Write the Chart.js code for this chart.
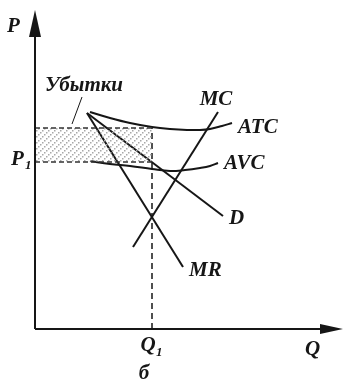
<!DOCTYPE html>
<html lang="ru">
<head>
<meta charset="UTF-8">
<script src="https://cdn.jsdelivr.net/npm/chart.js@4"></script>
<title>Убытки</title>
<style>
  html, body { margin: 0; padding: 0; background: #fff; }
</style>
</head>
<body>
<canvas id="grafico" width="347" height="381"></canvas>
<script>
// values (Q to the right, P upwards)
const qMax = 308, pMax = 317;
const atcQ = [55, 75, 95, 117, 135, 152, 165, 175, 187, 197];
const atcP = [217, 211, 206, 202, 200, 199, 199, 200, 203, 206];
const avcQ = [55, 75, 95, 117, 135, 150, 165, 175, 183];
const avcP = [168, 165, 163, 160, 158, 159, 161, 163, 166];
const dQ = [52, 188];
const dP = [216, 113];
const mrQ = [52, 148];
const mrP = [216, 62];
const mcQ = [98, 183];
const mcP = [82, 217];
const q1 = 117;
const p1 = 167;
const atcAtQ1 = 201;
const leaderQ = [47, 37];
const leaderP = [232, 205];

const pts = (xs, ys) => xs.map((x, i) => ({ x: x, y: ys[i] }));

// light dotted hatching for the loss rectangle
const pc = document.createElement('canvas');
pc.width = 6; pc.height = 6;
const pctx = pc.getContext('2d');
pctx.fillStyle = '#a8a8a8';
pctx.fillRect(4, 0, 1.5, 1.5);
pctx.fillRect(2, 2, 1.5, 1.5);
pctx.fillRect(0, 4, 1.5, 1.5);
const hatch = pctx.createPattern(pc, 'repeat');

const black = '#161616';
const font = "italic bold 21px 'Liberation Serif', 'DejaVu Serif', serif";
const subFont = "italic bold 13px 'Liberation Serif', 'DejaVu Serif', serif";

function line(data, width, dash, extra) {
    return Object.assign({
        data: data,
        showLine: true,
        borderColor: black,
        borderWidth: width,
        borderDash: dash || [],
        pointRadius: 0,
        fill: false,
        tension: 0
    }, extra || {});
}

const datasets = [
    line(pts([0, q1], [atcAtQ1, atcAtQ1]), 1.5, [5, 3], { borderColor: '#333' }),
    line(pts([0, q1], [p1, p1]), 1.5, [5, 3], { borderColor: '#333', fill: '-1', backgroundColor: hatch }),
    line(pts([q1, q1], [0, atcAtQ1]), 1.5, [6, 4]),
    line(pts(atcQ, atcP), 2, null, { tension: 0.4 }),
    line(pts(avcQ, avcP), 2, null, { tension: 0.4 }),
    line(pts(dQ, dP), 2),
    line(pts(mrQ, mrP), 2),
    line(pts(mcQ, mcP), 2),
    line(pts(leaderQ, leaderP), 1)
];

const labels = {
    id: 'labels',
    afterDatasetsDraw(chart) {
        const ctx = chart.ctx;
        const xs = chart.scales.x, ys = chart.scales.y;
        const X = v => xs.getPixelForValue(v);
        const Y = v => ys.getPixelForValue(v);
        const x0 = X(0), y0 = Y(0);
        ctx.save();
        // axes with arrows
        ctx.strokeStyle = black;
        ctx.fillStyle = black;
        ctx.lineWidth = 2;
        ctx.beginPath();
        ctx.moveTo(x0, y0); ctx.lineTo(x0, Y(pMax) + 20);
        ctx.moveTo(x0, y0); ctx.lineTo(X(qMax) - 18, y0);
        ctx.stroke();
        ctx.beginPath();
        ctx.moveTo(x0, Y(pMax) - 2);
        ctx.lineTo(x0 - 6, Y(pMax) + 25);
        ctx.lineTo(x0 + 6, Y(pMax) + 25);
        ctx.closePath(); ctx.fill();
        ctx.beginPath();
        ctx.moveTo(X(qMax), y0);
        ctx.lineTo(X(qMax) - 23, y0 - 5);
        ctx.lineTo(X(qMax) - 23, y0 + 5);
        ctx.closePath(); ctx.fill();

        ctx.font = font;
        ctx.textBaseline = 'middle';
        const last = (q, p) => ({ x: X(q[q.length - 1]), y: Y(p[p.length - 1]) });
        let e = last(mcQ, mcP);
        ctx.textAlign = 'center';
        ctx.fillText('MC', e.x - 2, e.y - 12);
        ctx.textAlign = 'left';
        e = last(atcQ, atcP); ctx.fillText('ATC', e.x + 6, e.y + 5);
        e = last(avcQ, avcP); ctx.fillText('AVC', e.x + 6, e.y + 1);
        e = last(dQ, dP); ctx.fillText('D', e.x + 6, e.y + 3);
        e = last(mrQ, mrP); ctx.fillText('MR', e.x + 6, e.y + 4);
        ctx.fillText('Убытки', X(leaderQ[0]) - 37, Y(leaderP[0]) - 11);
        ctx.fillText('P', 7, 27);
        ctx.fillText('Q', X(qMax) - 38, y0 + 21);
        ctx.fillText('P', 11, Y(p1) - 2);
        ctx.textAlign = 'center';
        ctx.fillText('Q', X(q1) - 4, y0 + 17);
        ctx.fillText('б', X(q1) - 8, y0 + 45);
        ctx.font = subFont;
        ctx.textAlign = 'left';
        ctx.fillText('1', 25, Y(p1) + 4);
        ctx.fillText('1', X(q1) + 4, y0 + 24);
        ctx.restore();
    }
};

new Chart(document.getElementById('grafico'), {
    type: 'scatter',
    data: { datasets: datasets },
    options: {
        responsive: false,
        animation: false,
        layout: { padding: { left: 35, right: 4, top: 12, bottom: 52 } },
        scales: {
            x: { type: 'linear', min: 0, max: qMax, display: false },
            y: { type: 'linear', min: 0, max: pMax, display: false }
        },
        plugins: { legend: { display: false }, tooltip: { enabled: false } }
    },
    plugins: [labels]
});
</script>
</body>
</html>
